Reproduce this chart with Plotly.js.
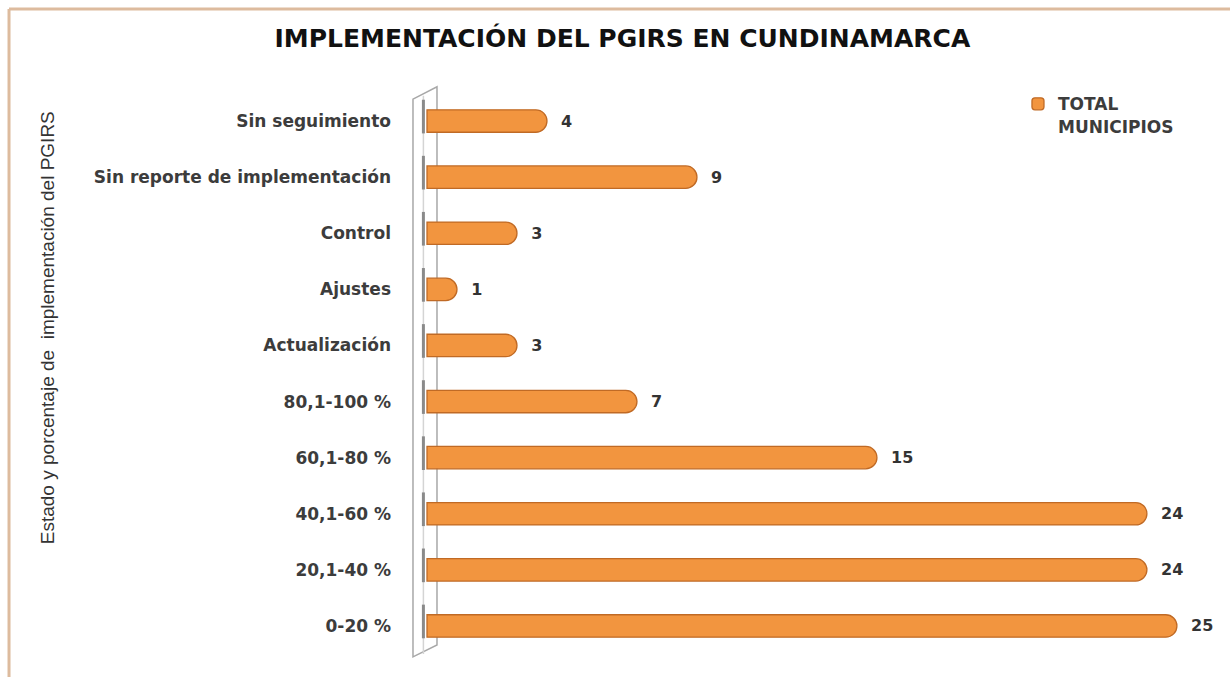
<!DOCTYPE html>
<html>
<head>
<meta charset="utf-8">
<script src="https://cdn.plot.ly/plotly-3.0.1.min.js"></script>
<style>
  html, body { margin: 0; padding: 0; background: #ffffff; }
  #chart { width: 1230px; height: 677px; }
</style>
</head>
<body>
<div id="chart"></div>
<script>
// Data (top to bottom as shown)
const categories = [
  "Sin seguimiento",
  "Sin reporte de implementación",
  "Control",
  "Ajustes",
  "Actualización",
  "80,1-100 %",
  "60,1-80 %",
  "40,1-60 %",
  "20,1-40 %",
  "0-20 %"
];
const totalMunicipios = [4, 9, 3, 1, 3, 7, 15, 24, 24, 25];
const seriesName = "TOTAL<br>MUNICIPIOS";
const chartTitle = "IMPLEMENTACIÓN DEL PGIRS EN CUNDINAMARCA";
const yTitle = "Estado y porcentaje de  implementación del PGIRS";

const trace = {
  type: "bar",
  orientation: "h",
  y: categories,
  x: totalMunicipios,
  name: seriesName,
  texttemplate: "\u00a0\u00a0%{x}",
  textposition: "outside",
  cliponaxis: false,
  textfont: { family: "DejaVu Sans", size: 16, color: "#333333", weight: "bold" },
  marker: {
    color: "#F2953F",
    line: { color: "#C06A25", width: 1.3 },
    cornerradius: "50%"
  },
  showlegend: true
};

// decorative 3D wall behind bar bases
const shapes = [
  { type: "path", xref: "x", yref: "paper", layer: "below",
    path: "M -0.467 0.989 L 0.333 1.011 L 0.333 0.016 L -0.467 -0.005 Z",
    fillcolor: "#ffffff", line: { color: "#a8a8a8", width: 1.5 } },
  { type: "line", xref: "x", yref: "paper", layer: "below",
    x0: -0.12, x1: -0.12, y0: 0.0, y1: 0.995,
    line: { color: "#d4d4d4", width: 1.5 } },
  // page frame
  { type: "line", xref: "paper", yref: "paper", layer: "above",
    x0: -0.5114, x1: 1.04, y0: 1.1497, y1: 1.1497,
    line: { color: "#DDBB9E", width: 3 } },
  { type: "line", xref: "paper", yref: "paper", layer: "above",
    x0: -0.5114, x1: -0.5114, y0: 1.1497, y1: -0.05,
    line: { color: "#DDBB9E", width: 3 } }
];
// shadows on the wall at each bar
categories.forEach((c, i) => {
  shapes.push({ type: "line", xref: "x", yref: "y", layer: "below",
    x0: -0.12, x1: -0.12, y0: i - 0.38, y1: i + 0.22,
    line: { color: "#8a8a8a", width: 3 } });
});

const layout = {
  width: 1230, height: 677,
  paper_bgcolor: "#ffffff", plot_bgcolor: "rgba(0,0,0,0)",
  margin: { l: 412, r: 30, t: 93, b: 23 },
  title: {
    text: "<b>" + chartTitle + "</b>",
    font: { family: "DejaVu Sans", size: 25, color: "#111111" },
    x: 0.506, xanchor: "center", y: 0.943, yanchor: "middle"
  },
  bargap: 0.6,
  xaxis: {
    range: [-0.5, 25.77], visible: false, fixedrange: true
  },
  yaxis: {
    type: "category",
    autorange: "reversed",
    showgrid: false, zeroline: false, showline: false,
    ticks: "", ticklabelstandoff: 20,
    tickfont: { family: "DejaVu Sans", size: 17, color: "#3c3c3c", weight: "bold" }
  },
  showlegend: true,
  legend: {
    x: 0.769, y: 1.012, xanchor: "left", yanchor: "top",
    bgcolor: "rgba(0,0,0,0)",
    font: { family: "DejaVu Sans", size: 17, color: "#3c3c3c", weight: "bold" },
    itemwidth: 30, valign: "top"
  },
  annotations: [
    { text: yTitle, xref: "paper", yref: "paper",
      x: -0.463, y: 0.581, xanchor: "center", yanchor: "middle",
      textangle: -90, showarrow: false,
      font: { family: "Liberation Sans Narrow, Liberation Sans", size: 19, color: "#333333" } }
  ],
  shapes: shapes
};

Plotly.newPlot("chart", [trace], layout, { displayModeBar: false, staticPlot: true });
</script>
</body>
</html>
